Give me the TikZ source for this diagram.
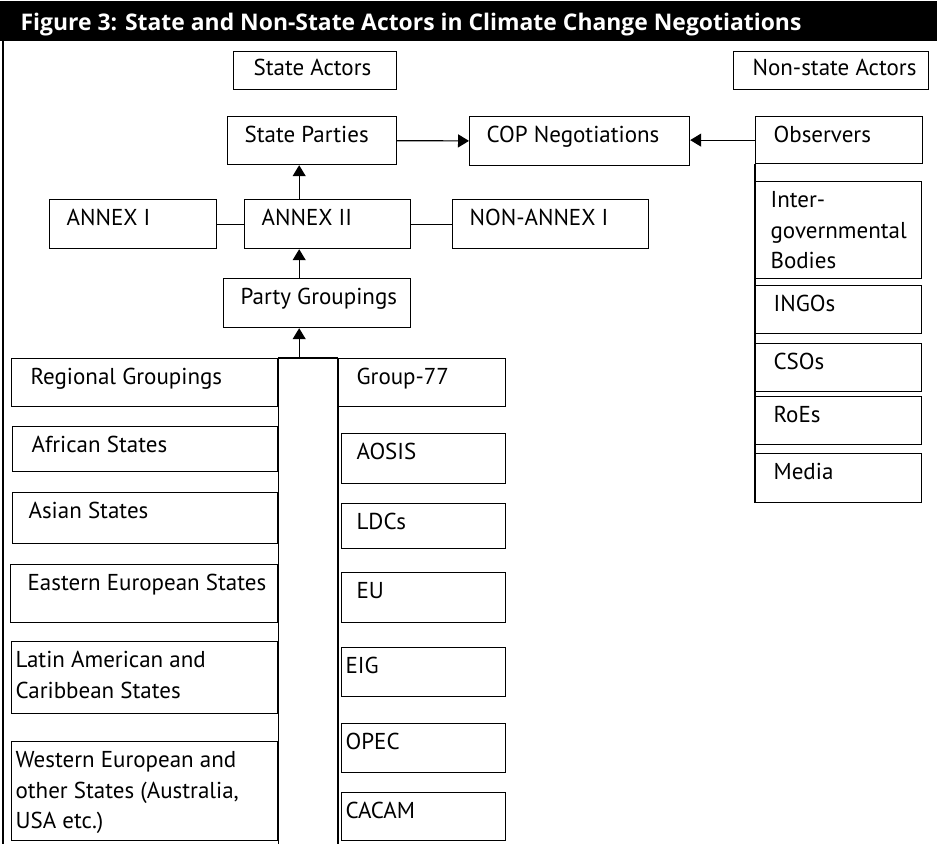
\documentclass[tikz,border=0pt]{standalone}
\usepackage{fontspec}
\setmainfont{PT Sans}
\newfontfamily\headfont{Open Sans}
\usetikzlibrary{arrows.meta,calc}

\begin{document}
\begin{tikzpicture}[x=1pt,y=-1pt,line width=1.2pt,
        >={Triangle[width=13pt,length=11pt]},
        box/.style={draw,anchor=north west,inner sep=0pt},
        tag/.style={anchor=north west,xshift=#1,yshift=-10pt,align=left,inner sep=0pt,
                    font=\fontsize{23}{30.5}\selectfont},
        tag/.default=17pt,
        tight/.style={tag=4pt}]
        \useasboundingbox (0,0) rectangle (937,844);

        % title band
        \fill[black] (0,1) rectangle (937,41);
        \node[anchor=base west,text=white,inner sep=0pt,font=\headfont\fontsize{22.9}{26}\selectfont\bfseries] (title) at (20,30)
            {Figure 3: State and Non-State Actors in Climate Change Negotiations};
        \coordinate (top) at (3,41);
        \coordinate (bot) at (3,844);
        \draw (top) -- (bot);

        % headings
        \node[box,minimum width=163pt,minimum height=38pt,label={[tag=20pt,yshift=2pt]north west:State Actors}] (sa) at (233,51) {};
        \node[box,minimum width=195pt,minimum height=38pt,label={[tag=19pt,yshift=2pt]north west:Non-state Actors}] (nsa) at (733,51) {};

        % state side
        \node[box,minimum width=169pt,minimum height=48pt,label={[tag]north west:State Parties}] (sp) at (227,116) {};
        \node[box,minimum width=220pt,minimum height=49pt,label={[tag]north west:COP Negotiations}] (cop) at (469,116) {};
        \node[box,minimum width=167pt,minimum height=49pt,label={[tag]north west:ANNEX I}] (a1) at (49,199) {};
        \node[box,minimum width=166pt,minimum height=49pt,label={[tag]north west:ANNEX II}] (a2) at (244,199) {};
        \node[box,minimum width=196pt,minimum height=49pt,label={[tag]north west:NON-ANNEX I}] (na1) at (452,199) {};
        \node[box,minimum width=187pt,minimum height=49pt,label={[tag]north west:Party Groupings}] (pg) at (223,278) {};

        % regional groupings
        \node[box,minimum width=266pt,minimum height=48pt,label={[tag=19pt]north west:Regional Groupings}] (reg) at (11,358) {};
        \node[box,minimum width=265pt,minimum height=45pt,label={[tag=19pt]north west:African States}] (afr) at (12,426) {};
        \node[box,minimum width=265pt,minimum height=51pt,label={[tag=16pt]north west:Asian States}] (asia) at (12,492) {};
        \node[box,minimum width=267pt,minimum height=58pt,label={[tag]north west:Eastern European States}] (eeu) at (10,564) {};
        \node[box,minimum width=266pt,minimum height=72pt,label={[tight]north west:Latin American and\\Caribbean States}] (lat) at (11,641) {};
        \node[box,minimum width=266pt,minimum height=99pt,label={[tight]north west:Western European and\\other States (Australia,\\USA etc.)}] (weu) at (11,741) {};

        % negotiating groups
        \node[box,minimum width=167pt,minimum height=48pt,label={[tag=18pt]north west:Group-77}] (g77) at (338,358) {};
        \node[box,minimum width=164pt,minimum height=50pt,label={[tag=15pt]north west:AOSIS}] (aosis) at (341,433) {};
        \node[box,minimum width=164pt,minimum height=45pt,label={[tag=15pt]north west:LDCs}] (ldc) at (341,503) {};
        \node[box,minimum width=164pt,minimum height=50pt,label={[tag=15pt]north west:EU}] (eu) at (341,572) {};
        \node[box,minimum width=164pt,minimum height=49pt,label={[tight]north west:EIG}] (eig) at (341,647) {};
        \node[box,minimum width=164pt,minimum height=49pt,label={[tight]north west:OPEC}] (opec) at (341,723) {};
        \node[box,minimum width=164pt,minimum height=48pt,label={[tight]north west:CACAM}] (cacam) at (341,792) {};

        % non-state side
        \node[box,minimum width=167pt,minimum height=47pt,label={[tag=18pt]north west:Observers}] (obs) at (755,116) {};
        \node[box,minimum width=166pt,minimum height=97pt,label={[tag=15pt]north west:Inter-\\governmental\\Bodies}] (igb) at (755,181) {};
        \node[box,minimum width=166pt,minimum height=48pt,label={[tag=18pt]north west:INGOs}] (ingo) at (755,285) {};
        \node[box,minimum width=166pt,minimum height=48pt,label={[tag=18pt]north west:CSOs}] (cso) at (755,343) {};
        \node[box,minimum width=166pt,minimum height=48pt,label={[tag=18pt]north west:RoEs}] (roe) at (755,396) {};
        \node[box,minimum width=166pt,minimum height=49pt,label={[tag=18pt]north west:Media}] (media) at (755,453) {};

        % connectors
        \draw[->] (sp) -- (cop);
        \draw[->] (obs.west) -- (obs.west -| cop.east);
        \draw (obs.south west) -- (media.south west);
        \draw (a1) -- (a2);
        \draw (a2) -- (na1);
        \coordinate (up) at ($(a2.north west)!0.33!(a2.north east)$);
        \draw[->] (up) -- (up |- sp.south);
        \coordinate (mid) at ($(a2.south west)!0.33!(a2.south east)$);
        \draw[->] (mid |- pg.north) -- (mid);
        \draw (reg.north east) -- (g77.north west);
        \draw[->] (mid |- reg.north) -- (mid |- pg.south);
        \draw (reg.north east) -- (reg.north east |- bot);
        \draw (g77.north west) -- (g77.north west |- bot);
\end{tikzpicture}
\end{document}
